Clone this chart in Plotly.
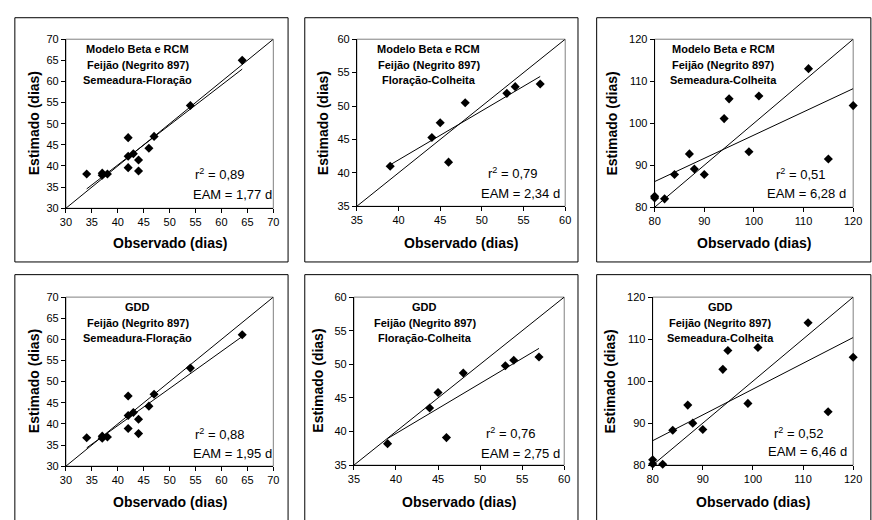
import numpy as np
import plotly.graph_objects as go

W, H = 872, 520

# ---------------- data ----------------
obs_sf = [34, 37, 37, 38, 42, 42, 42, 43, 44, 44, 46, 47, 54, 64]
est_beta_sf = [38.1, 38.3, 37.8, 38.1, 46.7, 42.3, 39.6, 42.9, 41.4, 38.8, 44.2, 47.0, 54.3, 65.0]
est_gdd_sf = [36.7, 37.1, 36.6, 36.9, 46.6, 42.0, 38.9, 42.7, 41.1, 37.7, 44.2, 47.0, 53.2, 61.1]

obs_fc = [39, 44, 45, 46, 48, 53, 54, 57]
est_beta_fc = [41.0, 45.3, 47.5, 41.6, 50.5, 51.9, 52.9, 53.3]
est_gdd_fc = [38.2, 43.5, 45.8, 39.1, 48.7, 49.8, 50.6, 51.1]

obs_sc = [80, 80, 82, 84, 87, 88, 90, 94, 95, 99, 101, 111, 115, 120]
est_beta_sc = [82.6, 82.2, 82.0, 87.8, 92.7, 89.1, 87.8, 101.1, 105.8, 93.2, 106.5, 113.0, 91.5, 104.2]
est_gdd_sc = [81.3, 80.3, 80.2, 88.3, 94.3, 90.0, 88.5, 102.8, 107.3, 94.7, 108.0, 113.9, 92.7, 105.7]

models = ["Modelo Beta e RCM", "GDD"]
phases = ["Semeadura-Floração", "Floração-Colheita", "Semeadura-Colheita"]
r2_labels = ["0,89", "0,79", "0,51", "0,88", "0,76", "0,52"]
eam_labels = ["1,77", "2,34", "6,28", "1,95", "2,75", "6,46"]
axis_ranges = [[30, 70], [35, 60], [80, 120]]
axis_dticks = [5, 5, 10]
x_title = "Observado (dias)"
y_title = "Estimado (dias)"

panels_data = [
    (obs_sf, est_beta_sf), (obs_fc, est_beta_fc), (obs_sc, est_beta_sc),
    (obs_sf, est_gdd_sf), (obs_fc, est_gdd_fc), (obs_sc, est_gdd_sc),
]

# ---------------- layout geometry (pixels) ----------------
# plot areas: (x0, x1, ytop, ybottom)
plot_px = [
    (61, 272, 34, 207), (357, 569, 34, 205), (660, 862, 34, 206),
    (61, 272, 298, 471), (354, 568, 298, 470), (658, 862, 298, 470),
]
# outer frames: (x0, x1, ytop, ybottom)
frame_px = [
    (9, 287, 12, 262), (304, 582, 12, 262), (601, 880, 12, 262),
    (9, 287, 275, 530), (304, 582, 275, 530), (601, 880, 275, 530),
]
ytitle_x = [28, 322, 617, 28, 318, 615]
xtitle_y = [243, 243, 243, 508, 508, 508]
note_cx = [134, 430, 730, 134, 426, 727]
note_y0 = [44, 44, 44, 308, 308, 308]
stat_x = [(190, 188), (488, 481), (781, 772), (190, 188), (486, 481), (779, 773)]
stat_y = [(172, 193), (171, 192), (172, 192), (438, 458), (437, 458), (437, 456)]

FONT = "Liberation Sans, Arial, sans-serif"


def px(x):
    return x / W


def py(y):
    return 1 - y / H


fig = go.Figure()
shapes = []
annotations = []

for i in range(6):
    n = "" if i == 0 else str(i + 1)
    xa, ya = "x" + n, "y" + n
    obs, est = panels_data[i]
    rng = axis_ranges[i % 3]
    dt = axis_dticks[i % 3]

    # 1:1 line
    fig.add_trace(go.Scatter(x=rng, y=rng, mode="lines",
                             line=dict(color="black", width=1),
                             xaxis=xa, yaxis=ya, showlegend=False, hoverinfo="skip"))
    # linear trend line fitted to the data
    slope, icpt = np.polyfit(obs, est, 1)
    xs = [min(obs), max(obs)]
    fig.add_trace(go.Scatter(x=xs, y=[slope * v + icpt for v in xs], mode="lines",
                             line=dict(color="black", width=1),
                             xaxis=xa, yaxis=ya, showlegend=False, hoverinfo="skip"))
    # points
    fig.add_trace(go.Scatter(x=obs, y=est, mode="markers",
                             marker=dict(symbol="diamond", size=7, color="black"),
                             xaxis=xa, yaxis=ya, showlegend=False, cliponaxis=False))

    x0, x1, yt, yb = plot_px[i]
    axis_common = dict(range=rng, dtick=dt, tick0=rng[0], showgrid=False, zeroline=False,
                       showline=True, linecolor="black", linewidth=1,
                       ticks="outside", ticklen=4, tickcolor="black", tickwidth=1,
                       tickfont=dict(family=FONT, size=11, color="black"),
                       fixedrange=True)
    fig.update_layout(**{
        "xaxis" + n: dict(domain=[px(x0), px(x1)], anchor=ya, **axis_common),
        "yaxis" + n: dict(domain=[py(yb), py(yt)], anchor=xa, **axis_common),
    })

    # plot area border (grey)
    shapes.append(dict(type="rect", xref=xa + " domain", yref=ya + " domain",
                       x0=0, x1=1, y0=0, y1=1, line=dict(color="#808080", width=1),
                       layer="below"))
    # chart frame
    fx0, fx1, fyt, fyb = frame_px[i]
    shapes.append(dict(type="rect", xref="paper", yref="paper",
                       x0=px(fx0), x1=px(fx1), y0=py(fyb), y1=py(fyt),
                       line=dict(color="black", width=1)))

    # axis titles
    annotations.append(dict(x=px((x0 + x1) / 2), y=py(xtitle_y[i]), xref="paper", yref="paper",
                            text="<b>" + x_title + "</b>", showarrow=False,
                            xanchor="center", yanchor="middle",
                            font=dict(family=FONT, size=14, color="black")))
    annotations.append(dict(x=px(ytitle_x[i]), y=py((yt + yb) / 2), xref="paper", yref="paper",
                            text="<b>" + y_title + "</b>", showarrow=False, textangle=-90,
                            xanchor="center", yanchor="middle",
                            font=dict(family=FONT, size=14, color="black")))
    # model note
    lines = [models[i // 3], "Feijão (Negrito 897)", phases[i % 3]]
    for k, t in enumerate(lines):
        annotations.append(dict(x=px(note_cx[i]), y=py(note_y0[i] + 16 * k), xref="paper", yref="paper",
                                text="<b>" + t + "</b>", showarrow=False,
                                xanchor="center", yanchor="middle",
                                font=dict(family=FONT, size=11, color="black")))
    # statistics
    annotations.append(dict(x=px(stat_x[i][0]), y=py(stat_y[i][0]), xref="paper", yref="paper",
                            text="r<sup>2</sup> = " + r2_labels[i], showarrow=False,
                            xanchor="left", yanchor="middle",
                            font=dict(family=FONT, size=13, color="black")))
    annotations.append(dict(x=px(stat_x[i][1]), y=py(stat_y[i][1]), xref="paper", yref="paper",
                            text="EAM = " + eam_labels[i] + " d", showarrow=False,
                            xanchor="left", yanchor="middle",
                            font=dict(family=FONT, size=13, color="black")))

fig.update_layout(width=W, height=H, margin=dict(l=0, r=0, t=0, b=0),
                  paper_bgcolor="white", plot_bgcolor="white",
                  shapes=shapes, annotations=annotations, showlegend=False)

fig.write_html("out.html",
               config={"displayModeBar": False, "staticPlot": True},
               post_script="document.body.style.margin='0px';document.body.style.overflow='hidden';")
